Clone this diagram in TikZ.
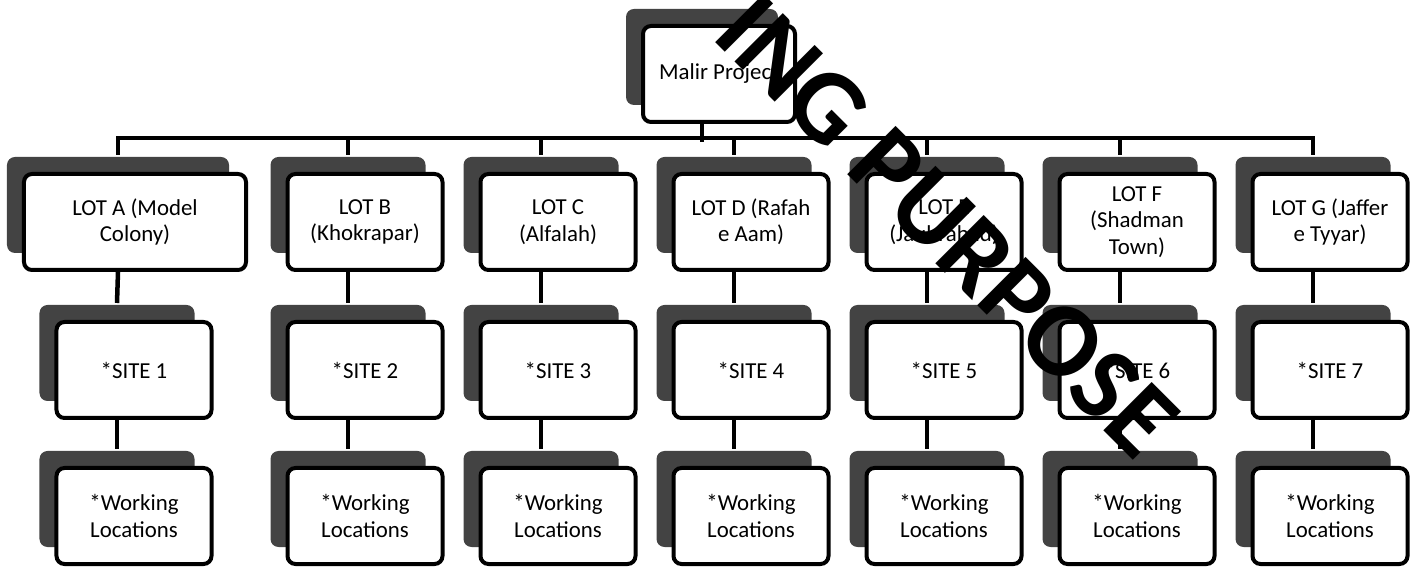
\documentclass[tikz,border=0pt]{standalone}
\usepackage{fontspec}
\setmainfont{Carlito}
\usetikzlibrary{positioning,calc,shadows}
\definecolor{shade}{HTML}{434343}
\tikzset{box/.style={rounded corners=1.6mm,draw=black,line width=0.8mm,fill=white,align=center,
    minimum width=31mm,minimum height=19.2mm,inner sep=2pt,font=\fontsize{13}{15}\selectfont,
    general shadow={fill=shade,shadow xshift=-3.4mm,shadow yshift=3.4mm}},
  conn/.style={line width=0.9mm,draw=black},
  backmid/.style={xshift=-3.4mm},
  backtop/.style={xshift=-3.4mm,yshift=3.4mm},
  bustop/.style={xshift=-3.4mm,yshift=6.8mm},
  wmark/.style={font=\fontsize{60}{60}\selectfont\bfseries,rotate=-45,text=black,inner sep=0pt}}
\begin{document}
\begin{tikzpicture}[x=0.2mm,y=-0.2mm]
\useasboundingbox (0,0) rectangle (1419,567);
% top
\node[box,minimum width=30.4mm] (malir) at (719,74) {Malir Project};
% lots
\node[box,minimum width=44.4mm] (lotA) at (135,222) {LOT A (Model\\Colony)};
\node[box] (lotB) at (365,222) {LOT B\\(Khokrapar)};
\node[box] (lotC) at (558,222) {LOT C\\(Alfalah)};
\node[box] (lotD) at (751,222) {LOT D (Rafah\\e Aam)};
\node[box] (lotE) at (944,222) {LOT E\\(Jauhrabad)};
\node[box] (lotF) at (1137,222) {LOT F\\(Shadman\\Town)};
\node[box] (lotG) at (1330,222) {LOT G (Jaffer\\e Tyyar)};
% sites
\node[box] (siteA) at (134,370) {*SITE 1};
\node[box] (siteB) at (365,370) {*SITE 2};
\node[box] (siteC) at (558,370) {*SITE 3};
\node[box] (siteD) at (751,370) {*SITE 4};
\node[box] (siteE) at (944,370) {*SITE 5};
\node[box] (siteF) at (1137,370) {*SITE 6};
\node[box] (siteG) at (1330,370) {*SITE 7};
% working locations
\node[box] (workA) at (134,516) {*Working\\Locations};
\node[box] (workB) at (365,516) {*Working\\Locations};
\node[box] (workC) at (558,516) {*Working\\Locations};
\node[box] (workD) at (751,516) {*Working\\Locations};
\node[box] (workE) at (944,516) {*Working\\Locations};
\node[box] (workF) at (1137,516) {*Working\\Locations};
\node[box] (workG) at (1330,516) {*Working\\Locations};
% bus
\draw[conn] ([backmid]malir.south) -- ([backmid,yshift=-3.6mm]malir.south);
\draw[conn,line cap=rect] ([bustop]lotA.north) -- ([bustop]lotG.north);
\draw[conn] ([bustop]lotA.north) -- ([backtop]lotA.north);
\draw[conn] ([bustop]lotB.north) -- ([backtop]lotB.north);
\draw[conn] ([bustop]lotC.north) -- ([backtop]lotC.north);
\draw[conn] ([bustop]lotD.north) -- ([backtop]lotD.north);
\draw[conn] ([bustop]lotE.north) -- ([backtop]lotE.north);
\draw[conn] ([bustop]lotF.north) -- ([backtop]lotF.north);
\draw[conn] ([bustop]lotG.north) -- ([backtop]lotG.north);
% lots to sites
\draw[conn] ([backmid]lotA.south) -- ([backtop]siteA.north);
\draw[conn] ([backmid]lotB.south) -- ([backtop]siteB.north);
\draw[conn] ([backmid]lotC.south) -- ([backtop]siteC.north);
\draw[conn] ([backmid]lotD.south) -- ([backtop]siteD.north);
\draw[conn] ([backmid]lotE.south) -- ([backtop]siteE.north);
\draw[conn] ([backmid]lotF.south) -- ([backtop]siteF.north);
\draw[conn] ([backmid]lotG.south) -- ([backtop]siteG.north);
% sites to working locations
\draw[conn] ([backmid]siteA.south) -- ([backtop]workA.north);
\draw[conn] ([backmid]siteB.south) -- ([backtop]workB.north);
\draw[conn] ([backmid]siteC.south) -- ([backtop]workC.north);
\draw[conn] ([backmid]siteD.south) -- ([backtop]workD.north);
\draw[conn] ([backmid]siteE.south) -- ([backtop]workE.north);
\draw[conn] ([backmid]siteF.south) -- ([backtop]workF.north);
\draw[conn] ([backmid]siteG.south) -- ([backtop]workG.north);
% watermark
\node[wmark] (wm) at (947,226) {ING PURPOSE};
\end{tikzpicture}
\end{document}
